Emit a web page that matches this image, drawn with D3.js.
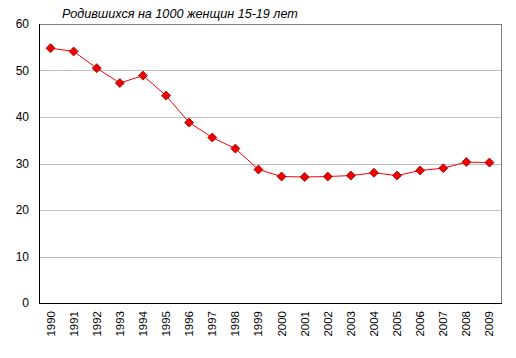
<!DOCTYPE html>
<html><head><meta charset="utf-8">
<script src="https://cdn.jsdelivr.net/npm/d3@7"></script>
<style>body{margin:0;background:#fff}svg{display:block}</style>
</head><body>
<script>
const years = ["1990","1991","1992","1993","1994","1995","1996","1997","1998","1999","2000","2001","2002","2003","2004","2005","2006","2007","2008","2009"];
const births = [54.8,54.1,50.5,47.3,48.9,44.6,38.8,35.6,33.2,28.7,27.2,27.1,27.2,27.4,28.0,27.4,28.5,29.0,30.3,30.2];
const yTicks = [0,10,20,30,40,50,60];
const title = "Родившихся на 1000 женщин 15-19 лет";

const W=516,H=358, L=39, R=501, T=24, B=303;
const svg=d3.select("body").append("svg").attr("width",W).attr("height",H);
const x=d3.scaleBand().domain(years).range([L,R]);
const y=d3.scaleLinear().domain([0,60]).range([B,T]);

svg.append("rect").attr("x",L).attr("y",T).attr("width",R-L).attr("height",B-T)
  .attr("fill","none").attr("stroke","#808080").attr("stroke-width",1)
  .attr("transform","translate(0.5,0.5)");

const gy=svg.append("g").attr("transform",`translate(${L},0)`)
  .call(d3.axisLeft(y).tickValues(yTicks).tickSize(0).tickPadding(10));
gy.select(".domain").remove();
gy.selectAll("text").attr("font-family","Arial, Liberation Sans, sans-serif").attr("font-size",12).attr("fill","#000");
svg.append("g").selectAll("line").data(yTicks.filter(d=>d>0&&d<60)).join("line")
  .attr("x1",L).attr("x2",R).attr("y1",d=>Math.round(y(d))+0.5).attr("y2",d=>Math.round(y(d))+0.5)
  .attr("stroke","#c0c0c0");

svg.append("line").attr("x1",L+0.5).attr("x2",L+0.5).attr("y1",T).attr("y2",B+1).attr("stroke","#000");
svg.append("line").attr("x1",L).attr("x2",R+1).attr("y1",B+0.5).attr("y2",B+0.5).attr("stroke","#000");

const gx=svg.append("g").attr("transform",`translate(0,${B})`)
  .call(d3.axisBottom(x).tickSize(0).tickPadding(0));
gx.select(".domain").remove();
gx.selectAll("text").attr("font-family","Arial, Liberation Sans, sans-serif").attr("font-size",11.5).attr("fill","#000")
  .attr("transform","rotate(-90)").attr("text-anchor","end").attr("x",-8).attr("y",0).attr("dy","0.35em").attr("dx",0);

const cx=d=>x(d)+x.bandwidth()/2;
svg.append("path").datum(births.map((v,i)=>[cx(years[i]),y(v)]))
  .attr("d",d3.line()).attr("fill","none").attr("stroke","#ff0000").attr("stroke-width",1);
svg.append("g").selectAll("path").data(births).join("path")
  .attr("transform",(v,i)=>`translate(${cx(years[i])},${y(v)})`)
  .attr("d","M0,-4.5L4.5,0L0,4.5L-4.5,0Z")
  .attr("fill","#ee0000").attr("stroke","#990000").attr("stroke-width",0.8);

svg.append("text").attr("x",62).attr("y",18).text(title)
  .attr("font-family","Arial, Liberation Sans, sans-serif").attr("font-size",12.6).attr("font-style","italic").attr("fill","#000");
</script>
</body></html>
